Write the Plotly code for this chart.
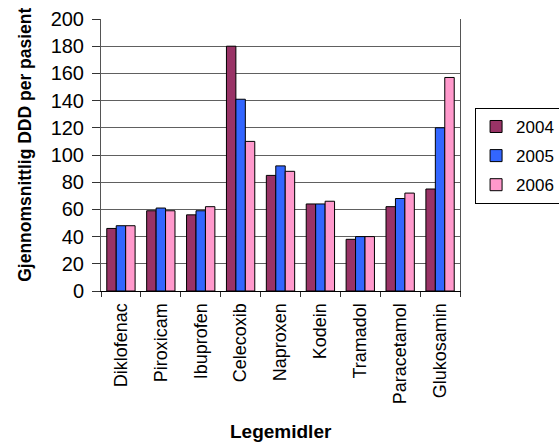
import plotly.graph_objects as go

# Average DDD per patient by drug and year
legemidler = ["Diklofenac", "Piroxicam", "Ibuprofen", "Celecoxib", "Naproxen",
              "Kodein", "Tramadol", "Paracetamol", "Glukosamin"]
aar = ["2004", "2005", "2006"]
verdier_2004 = [46, 59, 56, 180, 85, 64, 38, 62, 75]
verdier_2005 = [48, 61, 59, 141, 92, 64, 40, 68, 120]
verdier_2006 = [48, 59, 62, 110, 88, 66, 40, 72, 157]
farger = ["#993366", "#3366FF", "#FF99CC"]

FONT = "Liberation Sans, Arial, sans-serif"

fig = go.Figure()
for navn, verdier, farge in zip(aar, [verdier_2004, verdier_2005, verdier_2006], farger):
    fig.add_trace(go.Bar(
        x=legemidler, y=verdier, name=navn, legendgroup=navn,
        marker=dict(color=farge, line=dict(color="black", width=1)),
    ))

fig.update_layout(
    width=559, height=443,
    margin=dict(l=101, r=99, t=19, b=152, autoexpand=False),
    paper_bgcolor="white", plot_bgcolor="white",
    font=dict(family=FONT, color="black"),
    barmode="group", bargap=0.29, bargroupgap=0,
    showlegend=True,
    legend=dict(
        x=1.042, y=0.673, xanchor="left", yanchor="top",
        bordercolor="black", borderwidth=1, bgcolor="white",
        font=dict(size=17, family=FONT), tracegroupgap=4,
        itemwidth=30,
    ),
)

fig.update_xaxes(
    type="category", tickangle=-90, tickfont=dict(size=18, family=FONT),
    tickson="boundaries", ticks="outside", ticklen=5, tickcolor="#333",
    ticklabelstandoff=4,
    showline=True, linecolor="black", linewidth=1,
    showgrid=False,
)
fig.update_yaxes(
    range=[0, 200], dtick=20, tickfont=dict(size=20, family=FONT),
    ticks="outside", ticklen=8, tickcolor="#333", ticklabelstandoff=4,
    showline=True, linecolor="#555", linewidth=1, mirror=True,
    showgrid=True, gridcolor="#606060", gridwidth=1,
    zeroline=False,
)

fig.add_annotation(
    text="<b>Gjennomsnittlig DDD per pasient</b>", textangle=-90,
    xref="paper", yref="paper", x=-0.212, y=0.537,
    xanchor="center", yanchor="middle", showarrow=False,
    font=dict(size=17.5, family=FONT, color="black"),
)
fig.add_annotation(
    text="<b>Legemidler</b>",
    xref="paper", yref="paper", x=0.5, y=-0.515,
    xanchor="center", yanchor="middle", showarrow=False,
    font=dict(size=19, family=FONT, color="black"),
)

fig.write_html("out.html")
